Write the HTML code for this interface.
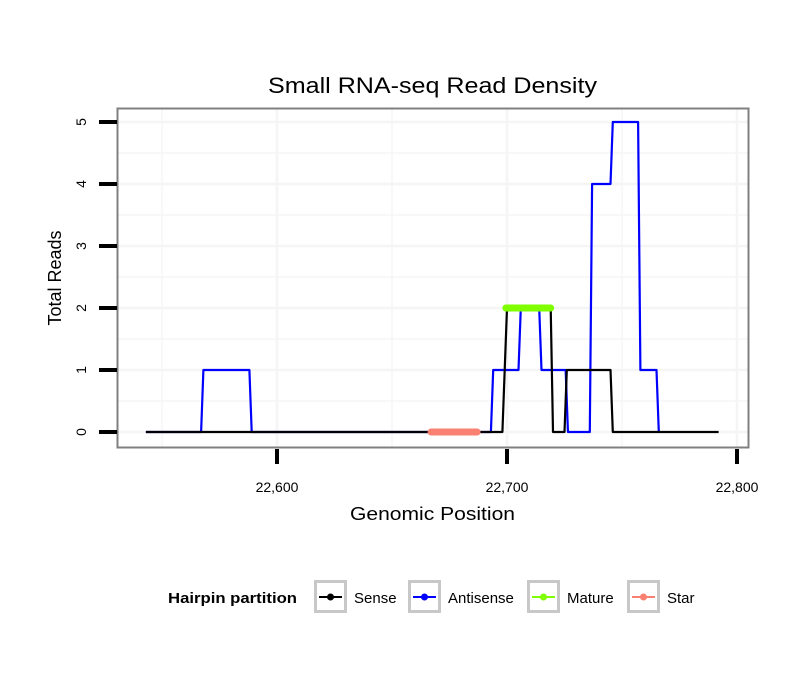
<!DOCTYPE html>
<html><head><meta charset="utf-8"><style>
body{margin:0;background:#fff;font-family:"Liberation Sans",sans-serif}
svg text{font-family:"Liberation Sans",sans-serif}
</style></head><body>
<svg width="810" height="690" id="chart">
<rect width="810" height="690" fill="#fff"/>
<text x="268" y="93" font-size="22" textLength="329" lengthAdjust="spacingAndGlyphs">Small RNA-seq Read Density</text>
<g id="grid"></g>
<g id="series"></g>
<rect x="117.5" y="108.5" width="631" height="339" fill="none" stroke="#808080" stroke-width="2"/>
<g id="axes"></g>
<text x="350" y="520" font-size="18" textLength="165" lengthAdjust="spacingAndGlyphs">Genomic Position</text>
<text transform="translate(61,278) rotate(-90)" font-size="18" text-anchor="middle">Total Reads</text>
<g font-size="15">
<text x="168" y="603" font-weight="bold" textLength="129" lengthAdjust="spacingAndGlyphs">Hairpin partition</text>
<g id="legend"></g>
</g>
</svg>
<script>
const xTicks=[22600,22700,22800];
const xTickLabels=["22,600","22,700","22,800"];
const yTicks=[0,1,2,3,4,5];
const sensePos=[22543,22698,22700,22719,22720,22725,22726,22745,22746,22792];
const senseVal=[0,0,2,2,0,0,1,1,0,0];
const antiPos=[22543,22567,22568,22588,22589,22693,22694,22705,22706,22714,22715,22725.5,22726.5,22736,22737,22745,22746,22757,22758,22765,22766];
const antiVal=[0,0,1,1,0,0,1,1,2,2,1,1,0,0,4,4,5,5,1,1,0];
const maturePos=[22699.5,22719];
const matureVal=[2,2];
const starPos=[22667,22687];
const starVal=[0,0];
const legendLabels=["Sense","Antisense","Mature","Star"];
const legendColors=["#000","#0000ff","#7fff00","#fa8072"];

const X=v=>277+(v-22600)*2.3;
const Y=v=>432-v*62;
const NS="http://www.w3.org/2000/svg";
function mk(tag,parent,attrs){const e=document.createElementNS(NS,tag);for(const k in attrs)e.setAttribute(k,attrs[k]);document.getElementById(parent).appendChild(e);return e;}

for(let v=22550;v<=22800;v+=50){
  const g=mk('line','grid',{x1:X(v),x2:X(v),y1:109,y2:447,stroke:'#f5f5f5','stroke-width':v%100===0?2.5:1.5});
  
  
}
for(let v=-0.5;v<=5.5;v+=0.5){
  if(Y(v)<109||Y(v)>447)continue;
  const g=mk('line','grid',{x1:118,x2:748,y1:Y(v),y2:Y(v),stroke:'#f5f5f5','stroke-width':Number.isInteger(v)?2.5:1.5});
  
  
}
xTicks.forEach((v,i)=>{
  const t=mk('line','axes',{x1:X(v),x2:X(v),y1:449,y2:464,stroke:'#000','stroke-width':4});
  
  
  const l=mk('text','axes',{x:X(v),y:492,'font-size':14,'text-anchor':'middle'});
  l.textContent=xTickLabels[i];
  
  
});
yTicks.forEach(v=>{
  const t=mk('line','axes',{x1:99,x2:117,y1:Y(v),y2:Y(v),stroke:'#000','stroke-width':4});
  
  
  const l=mk('text','axes',{transform:`translate(86,${Y(v)}) rotate(-90)`,'font-size':14,'text-anchor':'middle'});
  l.textContent=v;
  
  
});
function line(pos,val,color,w,name,cap){
  const p=mk('polyline','series',{points:pos.map((x,i)=>X(x)+','+Y(val[i])).join(' '),fill:'none',stroke:color,'stroke-width':w,'stroke-linecap':cap||'butt','stroke-linejoin':'round'});
  
  
}
line(antiPos,antiVal,'#0000ff',2.2,'antisense-line');
line(sensePos,senseVal,'#000',2.2,'sense-line');
line(starPos,starVal,'#fa8072',7,'star-line','round');
line(maturePos,matureVal,'#7fff00',7,'mature-line','round');
const lx=[314,408,527,627], tx=[354,448,567,667];
legendLabels.forEach((s,i)=>{
  const b=mk('rect','legend',{x:lx[i]+1.5,y:581.5,width:30,height:30,fill:'#fff',stroke:'#c8c8c8','stroke-width':3});
  
  
  mk('line','legend',{x1:lx[i]+5,x2:lx[i]+28,y1:597,y2:597,stroke:legendColors[i],'stroke-width':2});
  mk('circle','legend',{cx:lx[i]+16.5,cy:597,r:3.5,fill:legendColors[i]});
  const t=mk('text','legend',{x:tx[i],y:603,'font-size':15});
  t.textContent=s;
  
  
});
</script>
</body></html>
